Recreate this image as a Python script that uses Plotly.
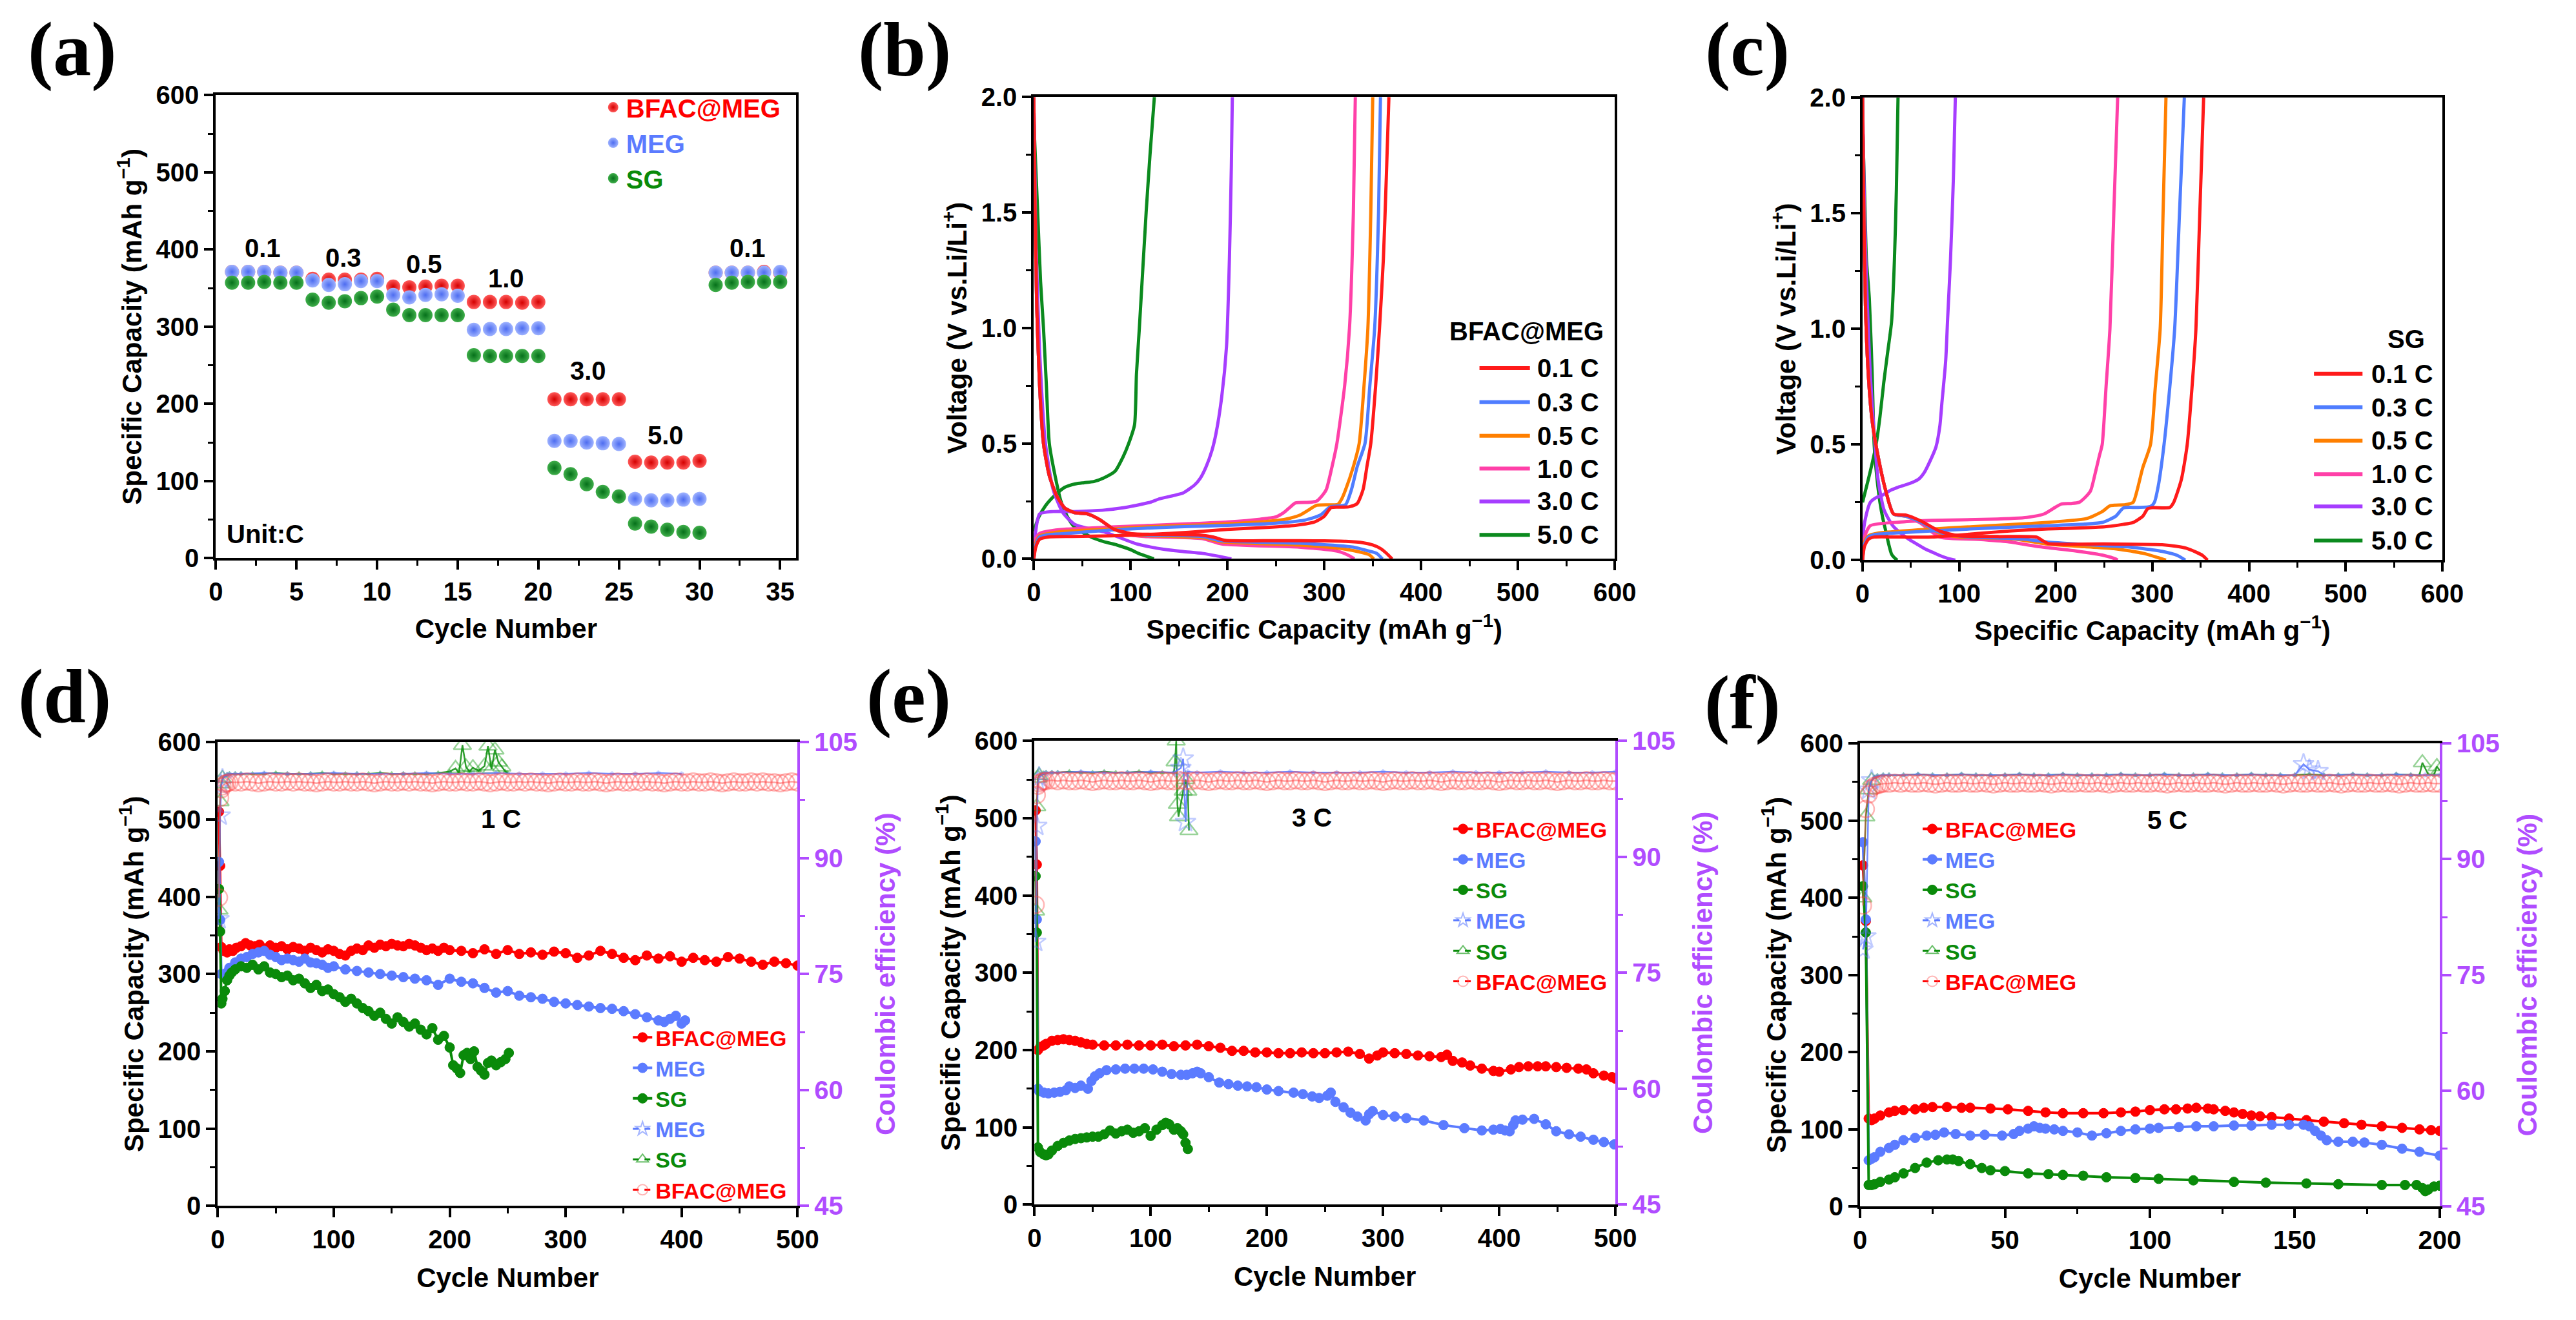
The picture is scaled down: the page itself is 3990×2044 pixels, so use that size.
import plotly.graph_objects as go

W, H = 3990, 2044
SANS = "Liberation Sans, Arial, Helvetica, sans-serif"
SERIF = "Liberation Serif, Times New Roman, serif"

RED = "#ff0000"
BLUE = "#5b7bff"
GREEN = "#0a8a0a"
PURPLE = "#b04cff"
RATE_COLORS = ["#ff1a1a", "#4f7dff", "#ff7f00", "#ff40a8", "#a63dff", "#0b8a1e"]

# ======================= DATA =======================
# (a) rate capability
a_cycle = list(range(1, 36))
a_bfac = [371, 371, 371, 370, 370, 362, 361, 361, 361, 362, 352, 351, 352, 353, 353,
          332, 332, 332, 331, 332, 206, 206, 206, 206, 206, 125, 124, 124, 124, 126,
          370, 370, 370, 371, 370]
a_meg = [371, 371, 371, 370, 370, 360, 354, 355, 359, 359, 341, 338, 341, 342, 340,
         296, 297, 297, 298, 298, 152, 152, 150, 149, 148, 77, 75, 75, 76, 77,
         370, 370, 370, 370, 371]
a_sg = [357, 357, 358, 357, 357, 335, 331, 333, 337, 339, 322, 315, 315, 315, 315,
        263, 262, 262, 262, 262, 117, 109, 96, 86, 80, 45, 41, 37, 34, 33,
        354, 357, 358, 358, 358]
a_rate_text = ["0.1", "0.3", "0.5", "1.0", "3.0", "5.0", "0.1"]

rate_names = ["0.1 C", "0.3 C", "0.5 C", "1.0 C", "3.0 C", "5.0 C"]

# (b) BFAC@MEG voltage profiles: discharge (dis) and charge (chg)
b01_dis_x = [0, 1, 3, 6, 10, 16, 24, 32, 42, 55, 68, 82, 100, 130, 170, 185, 198, 250, 300, 322, 340, 350, 358, 364, 370]
b01_dis_v = [2.0, 1.6, 1.1, 0.75, 0.5, 0.36, 0.27, 0.22, 0.2, 0.195, 0.17, 0.13, 0.11, 0.106, 0.104, 0.095, 0.08, 0.079, 0.078, 0.076, 0.07, 0.06, 0.045, 0.025, 0.0]
b01_chg_x = [0, 2, 6, 15, 40, 80, 120, 160, 200, 240, 270, 290, 300, 307, 318, 326, 334, 340, 344, 348, 353, 357, 361, 364, 366.7]
b01_chg_v = [0.0, 0.05, 0.085, 0.095, 0.097, 0.1, 0.106, 0.115, 0.128, 0.136, 0.145, 0.16, 0.185, 0.222, 0.224, 0.226, 0.24, 0.3, 0.4, 0.5, 0.75, 1.0, 1.3, 1.65, 2.0]

b03_dis_x = [0, 1, 3, 6, 10, 16, 24, 32, 42, 55, 68, 82, 100, 114, 174, 194, 274, 330, 345, 354, 360]
b03_dis_v = [2.0, 1.6, 1.1, 0.75, 0.5, 0.36, 0.27, 0.22, 0.2, 0.195, 0.17, 0.13, 0.108, 0.104, 0.097, 0.078, 0.068, 0.051, 0.035, 0.024, 0.0]
b03_chg_x = [0, 2, 6, 15, 34, 80, 114, 160, 200, 234, 260, 280, 296, 306, 314, 322, 328, 334, 342, 347, 352, 356, 358]
b03_chg_v = [0.0, 0.06, 0.095, 0.105, 0.11, 0.125, 0.133, 0.14, 0.145, 0.151, 0.158, 0.168, 0.19, 0.225, 0.229, 0.235, 0.3, 0.4, 0.5, 0.75, 1.0, 1.5, 2.0]

b05_dis_x = [0, 1, 3, 6, 10, 16, 24, 32, 42, 55, 68, 82, 100, 114, 174, 194, 274, 322, 346, 351]
b05_dis_v = [2.0, 1.6, 1.1, 0.75, 0.5, 0.36, 0.27, 0.22, 0.2, 0.195, 0.17, 0.13, 0.106, 0.101, 0.092, 0.074, 0.06, 0.042, 0.019, 0.0]
b05_chg_x = [0, 2, 6, 15, 34, 80, 114, 160, 200, 234, 260, 275, 285, 292, 305, 314, 318, 322, 330, 336, 341, 345, 348, 350]
b05_chg_v = [0.0, 0.07, 0.1, 0.11, 0.12, 0.13, 0.138, 0.145, 0.152, 0.16, 0.172, 0.19, 0.215, 0.232, 0.234, 0.236, 0.26, 0.3, 0.4, 0.5, 0.75, 1.0, 1.5, 2.0]

b10_dis_x = [0, 1, 3, 6, 10, 16, 24, 32, 42, 55, 68, 82, 100, 114, 174, 194, 274, 314, 325, 331]
b10_dis_v = [2.0, 1.6, 1.1, 0.75, 0.5, 0.36, 0.27, 0.22, 0.2, 0.195, 0.17, 0.13, 0.104, 0.097, 0.088, 0.065, 0.051, 0.033, 0.015, 0.0]
b10_chg_x = [0, 2, 6, 15, 34, 80, 114, 160, 200, 234, 250, 258, 265, 270, 285, 292, 297, 302, 308, 313, 321, 326, 330, 332]
b10_chg_v = [0.0, 0.09, 0.11, 0.12, 0.129, 0.138, 0.144, 0.152, 0.16, 0.172, 0.182, 0.2, 0.225, 0.242, 0.245, 0.25, 0.27, 0.3, 0.4, 0.5, 0.75, 1.0, 1.5, 2.0]

b30_dis_x = [0, 2, 6, 12, 20, 30, 42, 58, 74, 90, 106, 120, 134, 154, 174, 190, 204]
b30_dis_v = [2.0, 1.4, 0.9, 0.5, 0.3, 0.2, 0.15, 0.13, 0.115, 0.09, 0.065, 0.052, 0.042, 0.032, 0.024, 0.012, 0.0]
b30_chg_x = [0, 2, 6, 20, 40, 54, 74, 90, 106, 120, 130, 145, 154, 166, 172, 178, 184, 188, 194, 199, 202, 204, 205]
b30_chg_v = [0.0, 0.12, 0.195, 0.205, 0.205, 0.207, 0.212, 0.22, 0.232, 0.245, 0.26, 0.275, 0.285, 0.32, 0.35, 0.4, 0.47, 0.54, 0.7, 0.92, 1.3, 1.7, 2.0]

b50_dis_x = [0, 2, 4, 7, 10, 13, 16, 21, 28, 35, 42, 58, 72, 86, 100, 108, 116, 124]
b50_dis_v = [1.9, 1.7, 1.5, 1.2, 1.0, 0.75, 0.5, 0.38, 0.25, 0.18, 0.138, 0.097, 0.075, 0.06, 0.04, 0.024, 0.012, 0.0]
b50_chg_x = [0, 5, 12, 18, 24, 32, 43, 52, 62, 72, 84, 92, 98, 104, 106, 109, 116, 120, 124.5]
b50_chg_v = [0.12, 0.18, 0.23, 0.26, 0.284, 0.31, 0.325, 0.33, 0.335, 0.35, 0.38, 0.44, 0.5, 0.58, 0.8, 1.0, 1.5, 1.75, 2.0]

# (c) SG voltage profiles
c01_dis_x = [0, 1, 3, 6, 10, 16, 24, 32, 45, 60, 80, 100, 140, 180, 186, 192, 250, 310, 325, 335, 345, 352, 357]
c01_dis_v = [2.0, 1.6, 1.1, 0.8, 0.6, 0.45, 0.3, 0.2, 0.195, 0.17, 0.125, 0.105, 0.102, 0.1, 0.085, 0.072, 0.07, 0.067, 0.06, 0.052, 0.035, 0.02, 0.0]
c01_chg_x = [0, 2, 6, 12, 40, 72, 124, 152, 192, 230, 252, 270, 280, 290, 295, 300, 318, 322, 330, 336, 341, 345, 349, 353]
c01_chg_v = [0.0, 0.06, 0.09, 0.1, 0.1, 0.1, 0.117, 0.126, 0.135, 0.14, 0.145, 0.155, 0.163, 0.19, 0.222, 0.227, 0.228, 0.25, 0.35, 0.5, 0.75, 1.0, 1.5, 2.0]

c03_dis_x = [0, 1, 3, 6, 10, 16, 24, 32, 45, 60, 80, 110, 150, 170, 192, 230, 272, 290, 310, 326, 334]
c03_dis_v = [2.0, 1.6, 1.1, 0.8, 0.6, 0.45, 0.3, 0.2, 0.19, 0.165, 0.12, 0.1, 0.095, 0.09, 0.078, 0.068, 0.058, 0.05, 0.038, 0.02, 0.0]
c03_chg_x = [0, 2, 6, 12, 32, 112, 192, 230, 248, 262, 270, 285, 298, 302, 306, 312, 318, 323, 328, 333]
c03_chg_v = [0.0, 0.07, 0.1, 0.11, 0.117, 0.135, 0.149, 0.156, 0.163, 0.19, 0.226, 0.228, 0.232, 0.25, 0.32, 0.5, 0.75, 1.0, 1.5, 2.0]

c05_dis_x = [0, 1, 3, 6, 10, 16, 24, 32, 45, 60, 80, 100, 160, 190, 230, 260, 290, 305, 314]
c05_dis_v = [2.0, 1.6, 1.1, 0.8, 0.6, 0.45, 0.3, 0.2, 0.19, 0.165, 0.115, 0.1, 0.09, 0.07, 0.058, 0.05, 0.03, 0.012, 0.0]
c05_chg_x = [0, 2, 6, 16, 92, 172, 232, 248, 256, 262, 272, 280, 284, 290, 298, 303, 308, 311, 314]
c05_chg_v = [0.0, 0.08, 0.105, 0.117, 0.14, 0.158, 0.18, 0.21, 0.235, 0.238, 0.24, 0.25, 0.3, 0.4, 0.5, 0.75, 1.0, 1.5, 2.0]

c10_dis_x = [0, 1, 3, 6, 10, 16, 24, 32, 45, 60, 80, 120, 150, 180, 220, 250, 262, 264]
c10_dis_v = [2.0, 1.6, 1.1, 0.8, 0.6, 0.45, 0.3, 0.2, 0.19, 0.16, 0.1, 0.09, 0.08, 0.06, 0.04, 0.02, 0.005, 0.0]
c10_chg_x = [0, 2, 8, 40, 72, 132, 170, 188, 200, 206, 216, 224, 230, 236, 241, 245, 248, 252, 256, 260, 264]
c10_chg_v = [0.0, 0.1, 0.149, 0.165, 0.172, 0.177, 0.185, 0.2, 0.23, 0.243, 0.245, 0.25, 0.27, 0.3, 0.38, 0.45, 0.5, 0.75, 1.0, 1.5, 2.0]

c30_dis_x = [0, 2, 5, 8, 12, 16, 22, 28, 32, 40, 48, 56, 64, 72, 80, 88, 96]
c30_dis_v = [2.0, 1.5, 1.1, 0.8, 0.55, 0.35, 0.22, 0.17, 0.145, 0.115, 0.09, 0.07, 0.05, 0.035, 0.02, 0.008, 0.0]
c30_chg_x = [0, 1, 4, 8, 14, 20, 28, 36, 44, 52, 58, 64, 70, 76, 80, 82, 86, 88, 91, 94, 96]
c30_chg_v = [0.0, 0.13, 0.2, 0.25, 0.27, 0.28, 0.3, 0.314, 0.325, 0.337, 0.35, 0.38, 0.43, 0.49, 0.58, 0.675, 0.86, 1.04, 1.3, 1.65, 2.0]

c50_dis_x = [0, 2, 4, 7, 10, 12, 15, 18, 21, 24, 27, 30, 33, 36]
c50_dis_v = [1.9, 1.6, 1.3, 1.13, 0.8, 0.5, 0.35, 0.25, 0.18, 0.126, 0.07, 0.026, 0.01, 0.0]
c50_chg_x = [0, 3, 6, 10, 14, 18, 22, 26, 30, 33, 35, 36.7]
c50_chg_v = [0.25, 0.3, 0.35, 0.42, 0.5, 0.62, 0.77, 0.9, 1.03, 1.3, 1.6, 2.0]

# (d) 1 C cycling
d_bfac_cyc = [1, 2, 3, 5, 8, 10, 13, 16, 20, 24, 28, 32, 36, 40, 45, 50, 55, 60, 65, 70,
              75, 80, 85, 90, 95, 100, 105, 110, 115, 120, 125, 130, 135, 140, 145, 150, 155, 160, 165, 170,
              175, 180, 185, 190, 195, 200, 210, 220, 230, 240, 250, 260, 270, 280, 290, 300, 310, 320, 330, 340,
              350, 360, 370, 380, 390, 400, 410, 420, 430, 440, 450, 460, 470, 480, 490, 500]
d_bfac_cap = [510, 440, 335, 330, 328, 332, 330, 334, 336, 340, 337, 336, 338, 333, 337, 334, 336, 332, 335, 333,
              330, 334, 331, 328, 332, 330, 326, 324, 330, 333, 331, 337, 334, 338, 336, 339, 337, 336, 339, 337,
              334, 331, 333, 330, 334, 331, 330, 327, 332, 326, 331, 326, 328, 325, 329, 327, 321, 324, 330, 326,
              321, 318, 324, 320, 323, 316, 321, 318, 316, 322, 320, 316, 312, 316, 314, 311]
d_meg_cyc = [1, 2, 3, 5, 8, 10, 15, 20, 25, 30, 35, 40, 45, 50, 55, 60, 65, 70, 75, 80,
             85, 90, 95, 100, 110, 120, 130, 140, 150, 160, 170, 180, 190, 200, 210, 220, 230, 240, 250, 260,
             270, 280, 290, 300, 310, 320, 330, 340, 350, 360, 370, 380, 385, 390, 395, 400, 403]
d_meg_cap = [445, 370, 300, 298, 302, 308, 315, 320, 322, 326, 328, 330, 325, 322, 318, 320, 318, 316, 320, 315,
             314, 312, 308, 310, 306, 304, 302, 300, 298, 296, 294, 292, 286, 294, 290, 288, 282, 276, 278, 272,
             270, 268, 264, 262, 260, 258, 256, 255, 252, 248, 244, 240, 238, 242, 246, 236, 240]
d_sg_cyc = [1, 2, 3, 4, 6, 8, 10, 12, 15, 20, 25, 30, 35, 40, 45, 50, 55, 60, 65, 70,
            75, 80, 85, 90, 95, 100, 105, 110, 115, 120, 125, 130, 135, 140, 145, 150, 155, 160, 165, 170,
            175, 180, 185, 190, 195, 200, 203, 206, 209, 212, 215, 218, 221, 224, 227, 230, 233, 236, 240, 244,
            248, 251]
d_sg_cap = [410, 355, 262, 268, 278, 292, 298, 302, 306, 310, 308, 312, 306, 310, 302, 300, 296, 298, 292, 294,
            288, 282, 286, 278, 280, 274, 270, 264, 268, 262, 256, 252, 246, 250, 242, 236, 244, 238, 232, 236,
            228, 222, 230, 215, 220, 205, 182, 178, 172, 195, 198, 190, 200, 180, 175, 170, 185, 188, 182, 186,
            190, 198]
d_ce_bfac_cyc = [1, 2, 3, 4, 6, 8, 10, 15] + list(range(20, 501, 5))
d_ce_bfac = [84.9, 97.8, 98.9, 99.3, 99.6, 99.7, 99.8, 99.8,
             99.8, 99.9, 99.8, 99.7, 99.8, 99.9, 99.8, 99.8, 99.9, 99.8,
             99.9, 99.8, 99.8, 99.7, 99.8, 99.9, 99.8, 99.8, 99.9, 99.8,
             99.8, 99.9, 99.8, 99.7, 99.8, 99.9, 99.8, 99.8, 99.9, 99.8,
             99.9, 99.8, 99.8, 99.7, 99.8, 99.9, 99.8, 99.8, 99.9, 99.8,
             99.8, 99.9, 99.8, 99.7, 99.8, 99.9, 99.8, 99.8, 99.9, 99.8,
             99.9, 99.8, 99.8, 99.7, 99.8, 99.9, 99.8, 99.8, 99.9, 99.8,
             99.8, 99.9, 99.8, 99.7, 99.8, 99.9, 99.8, 99.8, 99.9, 99.8,
             99.9, 99.8, 99.8, 99.7, 99.8, 99.9, 99.8, 99.8, 99.9, 99.8,
             99.8, 99.9, 99.8, 99.7, 99.8, 99.9, 99.8, 99.8, 99.9, 99.8,
             99.9, 99.8, 99.8, 99.7, 99.8, 99.9, 99.8]
d_ce_meg_cyc = [1, 2, 3, 4, 6, 8, 10, 15] + list(range(20, 401, 20))
d_ce_meg = [82.1, 95.5, 99.4, 100.2, 100.6, 100.8, 100.9, 100.9,
            100.9, 101.0, 100.9, 100.9, 101.0, 100.9, 100.9, 100.9, 101.0, 100.9,
            100.9, 101.0, 100.9, 100.9, 100.9, 101.0, 100.9, 100.9, 101.0, 100.9]
d_ce_sg_cyc = [1, 2, 3, 4, 6, 8, 10, 15] + list(range(20, 201, 10)) + \
              [205, 208, 211, 214, 217, 220, 225, 230, 233, 236, 239, 242, 245, 248, 250]
d_ce_sg = [83.3, 97.3, 99.6, 100.3, 100.6, 100.8, 100.9, 100.9,
           100.9, 100.9, 100.9, 101.0, 100.9, 100.9, 100.9, 101.0, 100.9, 100.9,
           100.9, 100.9, 101.0, 100.9, 100.9, 100.9, 100.9, 101.0, 101.2,
           101.6, 101.0, 104.6, 101.8, 101.2, 101.7, 101.3, 101.9, 104.5, 101.5, 104.0, 102.4, 101.8, 101.2, 101.0]

# (e) 3 C cycling
e_bfac_cyc = [1, 2, 3, 5, 8, 10, 15, 20, 25, 30, 35, 40, 45, 50, 60, 70, 80, 90, 100, 110,
              120, 130, 140, 150, 160, 170, 180, 190, 200, 210, 220, 230, 240, 250, 260, 270, 280, 288, 295, 300,
              310, 320, 330, 340, 350, 355, 360, 368, 375, 385, 395, 400, 410, 417, 425, 433, 440, 449, 458, 468,
              475, 481, 490, 497, 500]
e_bfac_cap = [510, 440, 200, 204, 206, 208, 212, 213, 214, 213, 212, 210, 208, 207, 206, 206, 207, 206, 206, 207,
              205, 206, 207, 205, 203, 199, 199, 197, 197, 196, 196, 197, 196, 196, 197, 198, 195, 189, 193, 197,
              196, 195, 193, 192, 191, 194, 186, 184, 180, 176, 173, 172, 175, 178, 179, 179, 179, 178, 177, 176,
              175, 170, 167, 165, 163]
e_meg_cyc = [1, 2, 3, 4, 8, 12, 17, 22, 27, 30, 35, 40, 46, 49, 52, 56, 62, 70, 78, 86,
             94, 102, 110, 118, 126, 131, 136, 140, 143, 150, 159, 167, 175, 183, 191, 200, 210, 223, 231, 239,
             245, 252, 255, 259, 266, 272, 278, 285, 288, 291, 300, 310, 320, 335, 352, 370, 385, 395, 401, 405,
             409, 412, 414, 420, 430, 440, 449, 460, 470, 481, 490, 499]
e_meg_cap = [470, 369, 150, 147, 145, 144, 145, 146, 148, 153, 151, 154, 150, 160, 166, 170, 174, 175, 176, 176,
             176, 175, 172, 169, 168, 168, 170, 172, 170, 165, 158, 156, 154, 153, 152, 149, 147, 145, 143, 140,
             138, 141, 145, 133, 126, 119, 114, 109, 117, 121, 116, 114, 112, 109, 103, 99, 96, 97, 98, 96,
             95, 103, 109, 110, 111, 104, 95, 91, 88, 84, 81, 78]
e_sg_cyc = [1, 2, 3, 5, 8, 10, 12, 15, 20, 25, 30, 35, 40, 45, 50, 55, 60, 65, 70, 75,
            80, 85, 90, 95, 100, 105, 110, 113, 116, 120, 123, 126, 128, 130, 132]
e_sg_cap = [425, 352, 74, 68, 65, 64, 65, 70, 76, 80, 83, 85, 86, 87, 88, 88, 91, 96, 92, 95,
            97, 93, 95, 99, 89, 97, 103, 106, 104, 97, 99, 95, 91, 80, 72]
e_ce_bfac_cyc = [1, 2, 3, 4, 6, 8, 10, 15] + list(range(20, 501, 5))
e_ce_bfac = [83.8, 98.0, 99.2, 99.5, 99.7, 99.8, 99.8, 99.9,
             99.8, 99.9, 99.8, 99.8, 99.9, 99.8, 99.7, 99.8, 99.9, 99.8,
             99.8, 99.9, 99.8, 99.8, 99.9, 99.8, 99.7, 99.8, 99.9, 99.8,
             99.8, 99.9, 99.8, 99.8, 99.9, 99.8, 99.7, 99.8, 99.9, 99.8,
             99.8, 99.9, 99.8, 99.8, 99.9, 99.8, 99.7, 99.8, 99.9, 99.8,
             99.8, 99.9, 99.8, 99.8, 99.9, 99.8, 99.7, 99.8, 99.9, 99.8,
             99.8, 99.9, 99.8, 99.8, 99.9, 99.8, 99.7, 99.8, 99.9, 99.8,
             99.8, 99.9, 99.8, 99.8, 99.9, 99.8, 99.7, 99.8, 99.9, 99.8,
             99.8, 99.9, 99.8, 99.8, 99.9, 99.8, 99.7, 99.8, 99.9, 99.8,
             99.8, 99.9, 99.8, 99.8, 99.9, 99.8, 99.7, 99.8, 99.9, 99.8,
             99.8, 99.9, 99.8, 99.8, 99.9, 99.8, 99.8]
e_ce_sg_cyc = [1, 2, 3, 4, 6, 8, 10, 15] + list(range(20, 121, 10)) + [121, 122, 123, 124, 128, 130, 132, 133]
e_ce_sg = [83.0, 96.5, 100.2, 100.5, 100.7, 100.8, 100.9, 100.9,
           100.9, 101.0, 100.9, 100.9, 101.0, 100.9, 100.9, 101.0, 100.9, 100.9, 100.9,
           102.3, 105.0, 96.8, 95.2, 98.5, 100.0, 98.5, 93.4]
e_ce_meg_cyc = [1, 2, 3, 4, 6, 8, 10, 15] + list(range(20, 121, 20)) + [126, 128, 130, 132] + list(range(140, 501, 20))
e_ce_meg = [79.0, 94.0, 99.6, 100.3, 100.6, 100.8, 100.9, 100.9,
            100.9, 101.0, 100.9, 100.9, 101.0, 100.9,
            101.5, 102.7, 94.5, 101.0,
            100.9, 101.0, 100.9, 100.9, 101.0, 100.9, 100.9, 100.9, 101.0, 100.9,
            100.9, 101.0, 100.9, 100.9, 100.9, 101.0, 100.9, 100.9, 101.0]

# (f) 5 C cycling
f_bfac_cyc = [1, 2, 3, 4, 5, 7, 10, 12, 15, 19, 22, 25, 30, 35, 38, 45, 51, 58, 64, 70,
              77, 84, 90, 95, 100, 105, 109, 113, 116, 120, 122, 126, 129, 132, 135, 138, 142, 148, 154, 160,
              167, 173, 180, 187, 193, 197, 200]
f_bfac_cap = [442, 370, 114, 112, 114, 118, 122, 124, 125, 126, 128, 129, 129, 128, 128, 127, 126, 124, 122, 121,
              121, 121, 122, 123, 125, 126, 126, 127, 128, 127, 126, 124, 122, 120, 118, 117, 116, 114, 112, 110,
              108, 106, 104, 102, 100, 99, 98]
f_meg_cyc = [1, 2, 3, 4, 5, 7, 10, 12, 15, 19, 23, 26, 29, 33, 38, 43, 49, 53, 55, 58,
             60, 62, 64, 67, 70, 75, 80, 85, 90, 95, 100, 103, 110, 116, 122, 129, 135, 142, 148, 153,
             155, 157, 159, 161, 165, 170, 174, 180, 187, 193, 200]
f_meg_cap = [472, 372, 60, 62, 64, 71, 76, 80, 86, 89, 92, 93, 96, 94, 92, 93, 92, 94, 98, 101,
             104, 102, 101, 100, 98, 96, 92, 95, 98, 100, 101, 102, 103, 104, 104, 105, 105, 106, 106, 106,
             104, 98, 92, 86, 84, 84, 83, 80, 75, 71, 66]
f_sg_cyc = [1, 2, 3, 4, 5, 7, 10, 12, 15, 19, 23, 27, 30, 32, 34, 38, 42, 45, 50, 58,
            65, 70, 77, 85, 95, 103, 115, 129, 140, 154, 165, 180, 188, 192, 194, 195, 196, 198, 200]
f_sg_cap = [415, 355, 28, 28, 29, 32, 35, 38, 43, 50, 57, 60, 61, 61, 59, 55, 50, 47, 46, 43,
            42, 41, 40, 38, 37, 36, 34, 32, 31, 30, 29, 28, 28, 28, 24, 20, 22, 26, 27]
f_ce_bfac_cyc = [1, 2, 3, 4, 5, 6, 7, 8, 10, 12] + list(range(14, 201, 2))
f_ce_bfac = [84.0, 96.5, 98.4, 99.2, 99.5, 99.6, 99.7, 99.8, 99.8, 99.9,
             99.8, 99.9, 99.8, 99.8, 99.9, 99.8, 99.7, 99.8, 99.9, 99.8,
             99.8, 99.9, 99.8, 99.8, 99.9, 99.8, 99.7, 99.8, 99.9, 99.8,
             99.8, 99.9, 99.8, 99.8, 99.9, 99.8, 99.7, 99.8, 99.9, 99.8,
             99.8, 99.9, 99.8, 99.8, 99.9, 99.8, 99.7, 99.8, 99.9, 99.8,
             99.8, 99.9, 99.8, 99.8, 99.9, 99.8, 99.7, 99.8, 99.9, 99.8,
             99.8, 99.9, 99.8, 99.8, 99.9, 99.8, 99.7, 99.8, 99.9, 99.8,
             99.8, 99.9, 99.8, 99.8, 99.9, 99.8, 99.7, 99.8, 99.9, 99.8,
             99.8, 99.9, 99.8, 99.8, 99.9, 99.8, 99.7, 99.8, 99.9, 99.8,
             99.8, 99.9, 99.8, 99.8, 99.9, 99.8, 99.7, 99.8, 99.9, 99.8,
             99.8, 99.9, 99.8, 99.8]
f_ce_sg_cyc = [1, 2, 3, 4, 5, 6, 8, 10] + list(range(15, 191, 5)) + [193, 194, 196, 198, 199, 200]
f_ce_sg = [85.0, 95.5, 99.0, 100.2, 100.6, 100.8, 100.9, 100.9,
           100.9, 101.0, 100.9, 100.9, 101.0, 100.9, 100.9, 100.9, 101.0, 100.9,
           100.9, 101.0, 100.9, 100.9, 100.9, 101.0, 100.9, 100.9, 101.0, 100.9,
           100.9, 101.0, 100.9, 100.9, 101.0, 100.9, 100.9, 100.9, 101.0, 100.9,
           100.9, 101.0, 100.9, 100.9, 101.0, 100.9,
           100.9, 102.5, 101.0, 100.9, 102.0, 101.5]
f_ce_meg_cyc = [1, 2, 3, 4, 5, 6, 8, 10] + list(range(15, 151, 5)) + [153, 155, 158, 160] + list(range(165, 201, 5))
f_ce_meg = [78.3, 80.0, 99.0, 100.2, 100.6, 100.8, 100.9, 100.9,
            100.9, 101.0, 100.9, 100.9, 101.0, 100.9, 100.9, 100.9, 101.0, 100.9,
            100.9, 101.0, 100.9, 100.9, 100.9, 101.0, 100.9, 100.9, 101.0, 100.9,
            100.9, 101.0, 100.9, 100.9, 101.0, 100.9, 100.9, 100.9,
            102.3, 101.6, 101.4, 100.9,
            100.9, 101.0, 100.9, 100.9, 101.0, 100.9, 100.9, 100.9]

# ======================= FIGURE =======================
fig = go.Figure()


def cname(text, color):
    return '<span style="color:%s">%s</span>' % (color, text)


# ---- (a)
for vals, txt, col, grad in [(a_bfac, "BFAC@MEG", "#ff5a5a", "#d40000"),
                             (a_meg, "MEG", "#9fb3ff", "#4d6cf0"),
                             (a_sg, "SG", "#3fae4a", "#05701a")]:
    tcol = {"BFAC@MEG": RED, "MEG": BLUE, "SG": GREEN}[txt]
    fig.add_trace(go.Scatter(
        x=a_cycle, y=vals, mode="markers", xaxis="x", yaxis="y",
        marker=dict(size=22, color=col, gradient=dict(type="radial", color=grad), line=dict(width=0)),
        name=cname(txt, tcol), legend="legend", showlegend=True))

# ---- (b) and (c)
b_curves = [(b01_dis_x, b01_dis_v, b01_chg_x, b01_chg_v), (b03_dis_x, b03_dis_v, b03_chg_x, b03_chg_v),
            (b05_dis_x, b05_dis_v, b05_chg_x, b05_chg_v), (b10_dis_x, b10_dis_v, b10_chg_x, b10_chg_v),
            (b30_dis_x, b30_dis_v, b30_chg_x, b30_chg_v), (b50_dis_x, b50_dis_v, b50_chg_x, b50_chg_v)]
c_curves = [(c01_dis_x, c01_dis_v, c01_chg_x, c01_chg_v), (c03_dis_x, c03_dis_v, c03_chg_x, c03_chg_v),
            (c05_dis_x, c05_dis_v, c05_chg_x, c05_chg_v), (c10_dis_x, c10_dis_v, c10_chg_x, c10_chg_v),
            (c30_dis_x, c30_dis_v, c30_chg_x, c30_chg_v), (c50_dis_x, c50_dis_v, c50_chg_x, c50_chg_v)]
for curves, xa, ya in [(b_curves, "x2", "y2"), (c_curves, "x3", "y3")]:
    for i in range(5, -1, -1):
        dx, dv, cx, cv = curves[i]
        fig.add_trace(go.Scatter(
            x=list(dx) + [None] + list(cx), y=list(dv) + [None] + list(cv),
            mode="lines", xaxis=xa, yaxis=ya, showlegend=False,
            line=dict(color=RATE_COLORS[i], width=5, shape="spline", smoothing=0.6)))

# ---- (d), (e), (f)
panels = [
    ("x4", "y4", "y5", "legend2",
     [(d_bfac_cyc, d_bfac_cap, RED, "BFAC@MEG"), (d_meg_cyc, d_meg_cap, BLUE, "MEG"), (d_sg_cyc, d_sg_cap, GREEN, "SG")],
     [(d_ce_sg_cyc, d_ce_sg, "sg"), (d_ce_meg_cyc, d_ce_meg, "meg"), (d_ce_bfac_cyc, d_ce_bfac, "bfac")]),
    ("x5", "y6", "y7", "legend3",
     [(e_bfac_cyc, e_bfac_cap, RED, "BFAC@MEG"), (e_meg_cyc, e_meg_cap, BLUE, "MEG"), (e_sg_cyc, e_sg_cap, GREEN, "SG")],
     [(e_ce_sg_cyc, e_ce_sg, "sg"), (e_ce_meg_cyc, e_ce_meg, "meg"), (e_ce_bfac_cyc, e_ce_bfac, "bfac")]),
    ("x6", "y8", "y9", "legend4",
     [(f_bfac_cyc, f_bfac_cap, RED, "BFAC@MEG"), (f_meg_cyc, f_meg_cap, BLUE, "MEG"), (f_sg_cyc, f_sg_cap, GREEN, "SG")],
     [(f_ce_sg_cyc, f_ce_sg, "sg"), (f_ce_meg_cyc, f_ce_meg, "meg"), (f_ce_bfac_cyc, f_ce_bfac, "bfac")]),
]
CE_STYLE = {
    "sg": dict(symbol="triangle-up-open", color="rgba(10,150,10,0.6)", lcol="rgba(10,140,10,0.85)"),
    "meg": dict(symbol="star-open", color="rgba(90,120,255,0.55)", lcol="rgba(90,120,255,0.85)"),
    "bfac": dict(symbol="circle-open", color="rgba(255,70,70,0.4)", lcol="rgba(255,70,70,0.5)"),
}
for xa, ya, ya2, lg, caps, ces in panels:
    for cyc, cap, col, txt in caps:
        fig.add_trace(go.Scatter(
            x=cyc, y=cap, mode="lines+markers", xaxis=xa, yaxis=ya,
            line=dict(color=col, width=4),
            marker=dict(size=15, color=col, line=dict(color=col, width=1)),
            name=cname(txt, col), legend=lg, showlegend=True))
    for cyc, ce, key in ces:
        st = CE_STYLE[key]
        if key == "bfac":
            sizes = 26
        else:
            # markers stand out only where the efficiency leaves the flat ~100.9 % line
            sizes = [24 if abs(v - 100.9) > 0.4 else 5 for v in ce]
        fig.add_trace(go.Scatter(
            x=cyc, y=ce, mode="lines+markers", xaxis=xa, yaxis=ya2, showlegend=False,
            line=dict(color=st["lcol"], width=2.5),
            marker=dict(symbol=st["symbol"], size=sizes, color=st["color"], line=dict(width=2.5))))
    for key, col, txt in [("meg", BLUE, "MEG"), ("sg", GREEN, "SG"), ("bfac", RED, "BFAC@MEG")]:
        st = CE_STYLE[key]
        fig.add_trace(go.Scatter(
            x=[None], y=[None], mode="lines+markers", xaxis=xa, yaxis=ya,
            line=dict(color=col, width=3, dash="dash"),
            marker=dict(symbol=st["symbol"], size=16, color=st["color"], line=dict(width=2)),
            name=cname(txt, col), legend=lg, showlegend=True))

# ======================= LAYOUT =======================


def axis(domain, rng, dtick, minor, title, anchor, color="black", mirror=True, standoff=10,
         tick0=0, side=None, overlaying=None, fmt=None):
    d = dict(domain=domain, range=rng, dtick=dtick, tick0=tick0, anchor=anchor,
             showline=True, linecolor=color, linewidth=4, mirror=mirror,
             ticks="outside", ticklen=14, tickwidth=4, tickcolor=color,
             minor=dict(ticks="outside", ticklen=8, tickwidth=3, tickcolor=color, dtick=minor, tick0=tick0, showgrid=False),
             showgrid=False, zeroline=False, fixedrange=True,
             tickfont=dict(family=SANS, size=40, color=color, weight="bold"),
             title=dict(text=title, standoff=standoff,
                        font=dict(family=SANS, size=42, color=color, weight="bold")))
    if side:
        d["side"] = side
    if overlaying:
        d["overlaying"] = overlaying
    if fmt:
        d["tickformat"] = fmt
    return d


CAP = "Specific Capacity (mAh g<sup>\u22121</sup>)"
CYC = "Cycle Number"
VOLT = "Voltage (V vs.Li/Li<sup>+</sup>)"
CE_T = "Coulombic efficiency (%)"

DOM = {
    "a": ([0.08195, 0.30977], [0.57877, 0.93738]),
    "b": ([0.40301, 0.63108], [0.57828, 0.93591]),
    "c": ([0.72832, 0.95589], [0.57730, 0.93542]),
    "d": ([0.08271, 0.31028], [0.07730, 0.43640]),
    "e": ([0.40326, 0.63133], [0.07828, 0.43738]),
    "f": ([0.72732, 0.95489], [0.07681, 0.43542]),
}

layout = dict(
    width=W, height=H, margin=dict(l=0, r=0, t=0, b=0),
    paper_bgcolor="white", plot_bgcolor="white",
    font=dict(family=SANS, size=40, color="black"),
    xaxis=axis(DOM["a"][0], [0, 36], 5, 2.5, CYC, "y", standoff=22),
    yaxis=axis(DOM["a"][1], [0, 600], 100, 50, CAP, "x"),
    xaxis2=axis(DOM["b"][0], [0, 600], 100, 50, CAP, "y2", standoff=22),
    yaxis2=axis(DOM["b"][1], [0, 2.0], 0.5, 0.25, VOLT, "x2", fmt=".1f"),
    xaxis3=axis(DOM["c"][0], [0, 600], 100, 50, CAP, "y3", standoff=22),
    yaxis3=axis(DOM["c"][1], [0, 2.0], 0.5, 0.25, VOLT, "x3", fmt=".1f"),
    xaxis4=axis(DOM["d"][0], [0, 500], 100, 50, CYC, "y4", standoff=24),
    yaxis4=axis(DOM["d"][1], [0, 600], 100, 50, CAP, "x4", mirror=False),
    yaxis5=axis(DOM["d"][1], [45, 105], 15, 7.5, CE_T, "x4", color=PURPLE, mirror=False,
                tick0=45, side="right", overlaying="y4", standoff=30),
    xaxis5=axis(DOM["e"][0], [0, 500], 100, 50, CYC, "y6", standoff=24),
    yaxis6=axis(DOM["e"][1], [0, 600], 100, 50, CAP, "x5", mirror=False),
    yaxis7=axis(DOM["e"][1], [45, 105], 15, 7.5, CE_T, "x5", color=PURPLE, mirror=False,
                tick0=45, side="right", overlaying="y6", standoff=30),
    xaxis6=axis(DOM["f"][0], [0, 200], 50, 25, CYC, "y8", standoff=24),
    yaxis8=axis(DOM["f"][1], [0, 600], 100, 50, CAP, "x6", mirror=False),
    yaxis9=axis(DOM["f"][1], [45, 105], 15, 7.5, CE_T, "x6", color=PURPLE, mirror=False,
                tick0=45, side="right", overlaying="y8", standoff=30),
)

LEG_COMMON = dict(xanchor="left", yanchor="top", bgcolor="rgba(0,0,0,0)", borderwidth=0,
                  tracegroupgap=0, itemclick=False, itemdoubleclick=False)
layout["legend"] = dict(x=(974 - 45) / W, y=1 - 114 / H,
                        font=dict(family=SANS, size=40, weight="bold"), **LEG_COMMON)
layout["legend2"] = dict(x=(1020 - 45) / W, y=1 - 1590 / H,
                         font=dict(family=SANS, size=34, weight="bold"), **LEG_COMMON)
layout["legend3"] = dict(x=(2305 - 45) / W, y=1 - 1260 / H,
                         font=dict(family=SANS, size=34, weight="bold"), **LEG_COMMON)
layout["legend4"] = dict(x=(3040 - 45) / W, y=1 - 1260 / H,
                         font=dict(family=SANS, size=34, weight="bold"), **LEG_COMMON)

ann = []
shapes = []


def label(txt, xl, yc):
    ann.append(dict(text="<b>%s</b>" % txt, x=xl / W, y=1 - yc / H, xref="paper", yref="paper",
                    xanchor="left", yanchor="middle", showarrow=False,
                    font=dict(family=SERIF, size=118, color="black")))


label("(a)", 30, 56)
label("(b)", 1331, 56)
label("(c)", 2657, 56)
label("(d)", 15, 1080)
label("(e)", 1344, 1080)
label("(f)", 2656, 1090)

# (a) rate labels
for txt, xv, yv in zip(a_rate_text, [2.9, 7.9, 12.9, 18.0, 23.1, 27.9, 33.0],
                       [402, 389, 381, 363, 243, 159, 402]):
    ann.append(dict(text="<b>%s</b>" % txt, x=xv, y=yv, xref="x", yref="y", showarrow=False,
                    xanchor="center", yanchor="middle", font=dict(family=SANS, size=40, color="black")))
ann.append(dict(text="<b>Unit:C</b>", x=0.6, y=31, xref="x", yref="y", showarrow=False,
                xanchor="left", yanchor="middle", font=dict(family=SANS, size=40, color="black")))

# rate notes in (d)-(f)
for txt, xa, ya, xv in [("1 C", "x4", "y4", 244), ("3 C", "x5", "y6", 239), ("5 C", "x6", "y8", 106)]:
    ann.append(dict(text="<b>%s</b>" % txt, x=xv, y=501, xref=xa, yref=ya, showarrow=False,
                    xanchor="center", yanchor="middle", font=dict(family=SANS, size=40, color="black")))

# manual legends for (b) and (c)
for title, tx_right, ty, lx0, lx1, tx, rows in [
        ("BFAC@MEG", 2503, 502, 2306, 2385, 2394, [560, 614, 667, 719, 771, 824]),
        ("SG", 3789, 514, 3613, 3689, 3701, [569, 622, 675, 728, 779, 833])]:
    ann.append(dict(text="<b>%s</b>" % title, x=tx_right / W, y=1 - ty / H, xref="paper", yref="paper",
                    xanchor="right", yanchor="middle", showarrow=False,
                    font=dict(family=SANS, size=40, color="black")))
    for i, ry in enumerate(rows):
        shapes.append(dict(type="line", xref="paper", yref="paper", x0=lx0 / W, x1=lx1 / W,
                           y0=1 - ry / H, y1=1 - ry / H, line=dict(color=RATE_COLORS[i], width=6)))
        ann.append(dict(text="<b>%s</b>" % rate_names[i], x=tx / W, y=1 - ry / H, xref="paper", yref="paper",
                        xanchor="left", yanchor="middle", showarrow=False,
                        font=dict(family=SANS, size=40, color="black")))

layout["annotations"] = ann
layout["shapes"] = shapes
fig.update_layout(**layout)

fig.write_html("out.html", include_plotlyjs=True, config={"displayModeBar": False},
               post_script="document.body.style.margin='0';document.body.style.overflow='hidden';")
